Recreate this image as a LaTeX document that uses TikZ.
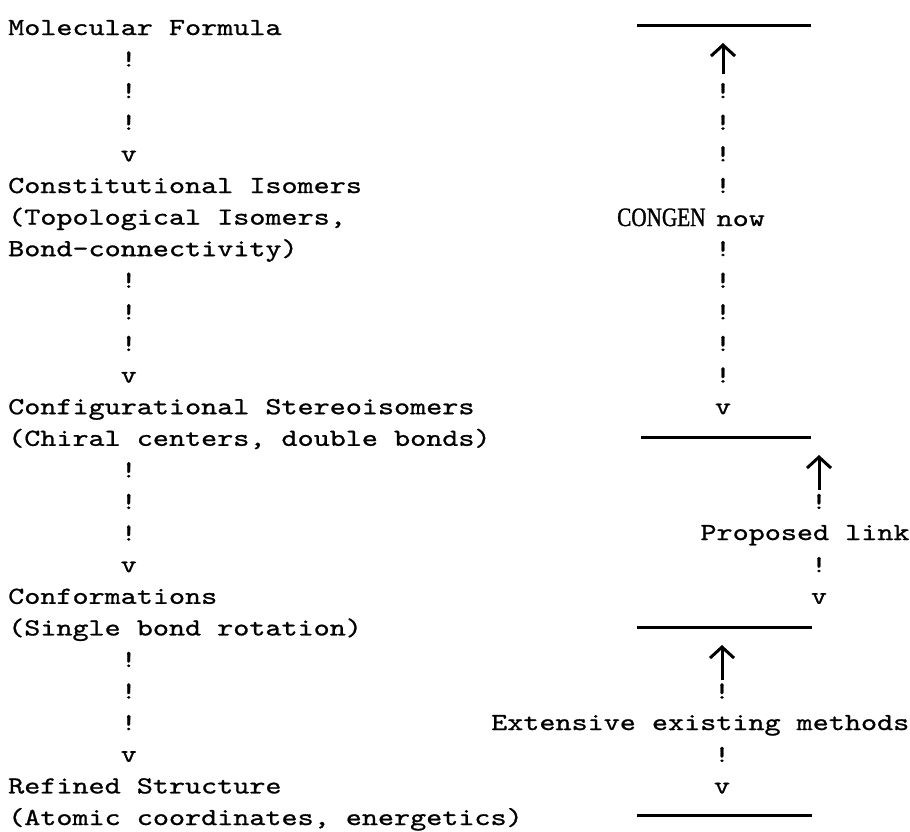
\documentclass[tikz,border=0pt]{standalone}
\usepackage{fontspec}
\usetikzlibrary{arrows.meta,positioning}
\newfontfamily\typer{lmmono10-regular}[Extension=.otf,FakeStretch=1.25,FakeBold=0.9]
\newfontfamily\congen{Liberation Serif}[FakeStretch=0.8,FakeBold=1.2]
\newcommand\tyfont{\typer\fontsize{24.5}{31.6}\selectfont}
\tikzset{
  textline/.style={anchor=base west, inner sep=0pt, font=\tyfont},
  bang/.style={anchor=base, inner sep=0pt, font=\tyfont},
  rulebar/.style={line width=3pt},
  uparrow/.style={line width=3pt, -{Straight Barb[length=11pt,width=24pt]}}
}

\begin{document}
\begin{tikzpicture}[x=1pt,y=-1pt]
    \useasboundingbox (0,0) rectangle (910,831);

    \node[textline] (mf) at (8,35) {Molecular Formula};
    \node[textline] (ci) at (8,193) {Constitutional Isomers};
    \node[textline] (ti) at (8,224.6) {(Topological Isomers,};
    \node[textline] (bc) at (8,256.2) {Bond-connectivity)};
    \node[textline] (cs) at (8,414.2) {Configurational Stereoisomers};
    \node[textline] (cc) at (8,445.8) {(Chiral centers, double bonds)};
    \node[textline] (cf) at (8,603.8) {Conformations};
    \node[textline] (sb) at (8,635.4) {(Single bond rotation)};
    \node[textline] (rs) at (8,793.4) {Refined Structure};
    \node[textline] (ac) at (8,825) {(Atomic coordinates, energetics)};

    \foreach \r in {1,2,3,8,9,10,14,15,16,20,21,22}
        \node[bang] (lb\r) at (128.75,{35+31.6*\r}) {!};
    \foreach \r in {4,11,17,23}
        \node[bang] (lv\r) at (128.75,{35+31.6*\r}) {v};

    \coordinate (r1a) at (637,25);   \coordinate (r1b) at (811,25);
    \coordinate (r2a) at (641,437);  \coordinate (r2b) at (811,437);
    \coordinate (r3a) at (637,627);  \coordinate (r3b) at (812,627);
    \coordinate (r4a) at (637,815);  \coordinate (r4b) at (812,815);
    \draw[rulebar] (r1a) -- (r1b);
    \draw[rulebar] (r2a) -- (r2b);
    \draw[rulebar] (r3a) -- (r3b);
    \draw[rulebar] (r4a) -- (r4b);

    \coordinate (a1s) at (723,74);  \coordinate (a1t) at (723,43);
    \coordinate (a2s) at (819,490); \coordinate (a2t) at (819,455);
    \coordinate (a3s) at (722,680); \coordinate (a3t) at (722,645);
    \draw[uparrow] (a1s) -- (a1t);
    \draw[uparrow] (a2s) -- (a2t);
    \draw[uparrow] (a3s) -- (a3t);

    \foreach \r in {2,3,4,5,7,8,9,10,11}
        \node[bang] (cb\r) at (723,{35+31.6*\r}) {!};
    \node[bang] (cv) at (723,414.2) {v};
    \node[anchor=base west, inner sep=0pt, font=\congen\fontsize{26.5}{30}\selectfont] (cg) at (617,226) {CONGEN};
    \node[textline] (now) at (716.4,226) {now};

    \node[bang] (pb15) at (819,509) {!};
    \node[textline] (pl) at (700.3,540) {Proposed link};
    \node[bang] (pb17) at (819,572.2) {!};
    \node[bang] (pv) at (819,603.8) {v};

    \node[bang] (eb21) at (722,698.6) {!};
    \node[textline] (em) at (491,730) {Extensive existing methods};
    \node[bang] (eb23) at (722,762) {!};
    \node[bang] (ev) at (722,793.4) {v};
\end{tikzpicture}
\end{document}
